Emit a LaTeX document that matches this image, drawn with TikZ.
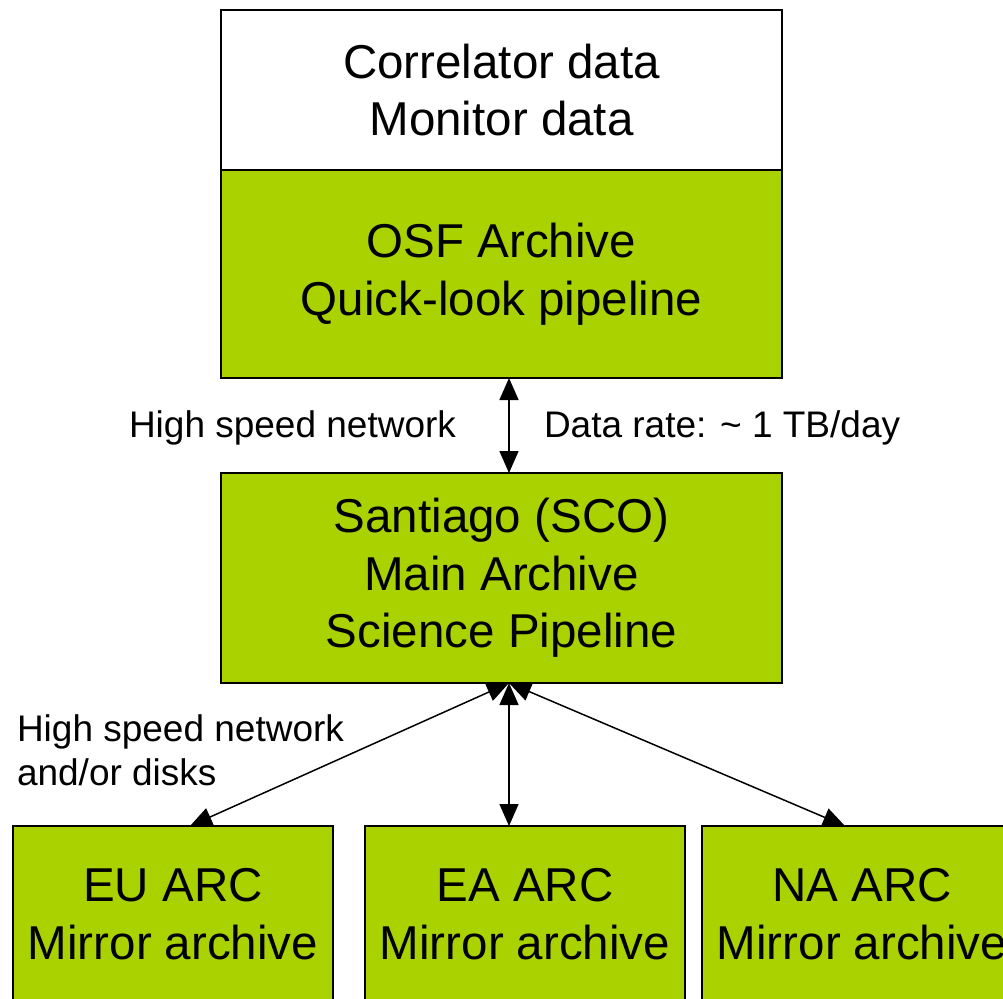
\documentclass[tikz,border=0pt]{standalone}
\usepackage{fontspec}
\setmainfont{Liberation Sans}
\usetikzlibrary{arrows.meta,calc}
\definecolor{boxgreen}{RGB}{170,210,0}
\begin{document}
\begin{tikzpicture}[x=1pt,y=-1pt,
  box/.style={draw=black, line width=1.6pt, inner sep=0pt, outer sep=0pt,
    align=center, font=\fontsize{47.5}{57.5}\selectfont},
  wide/.style={box, minimum width=561pt},
  arcbox/.style={box, fill=boxgreen, minimum width=320pt, minimum height=176pt},
  lbl/.style={inner sep=0pt, outer sep=0pt, font=\fontsize{37}{44}\selectfont},
  arr/.style={line width=1.5pt, {Triangle[length=22pt,width=19pt]}-{Triangle[length=22pt,width=19pt]}}
]
\useasboundingbox (0,0) rectangle (1003,998);
\clip (0,0) rectangle (1003,998);
\node[wide, fill=white, minimum height=160pt] (raw) at (501.5,90) {Correlator data\\Monitor data};
\node[wide, fill=boxgreen, minimum height=208pt] (osf) at (501.5,274) {OSF Archive\\Quick-look pipeline};
\node[wide, fill=boxgreen, minimum height=210pt] (sco) at (501.5,578) {Santiago (SCO)\\Main Archive\\Science Pipeline};
\node[arcbox] (eu) at (173,914) {EU ARC\\Mirror archive};
\node[arcbox] (ea) at (525,914) {EA ARC\\Mirror archive};
\node[arcbox] (na) at (862,914) {NA ARC\\Mirror archive};

\node[lbl, anchor=base west] (hsn) at (129,437) {High speed network};
\node[lbl, anchor=base west] (rate) at (544,437) {Data rate: \textasciitilde{} 1 TB/day};
\node[lbl, anchor=north west, align=left] (disk) at (17,715) {High speed network\\and/or disks};

\draw[arr] ([xshift=7.5pt]osf.south) -- ([xshift=7.5pt]sco.north);
\coordinate (hub) at ([xshift=7.5pt]sco.south);
\draw[arr] (hub) -- ([xshift=17pt]eu.north);
\draw[arr] (hub) -- ([xshift=-16pt]ea.north);
\draw[arr] (hub) -- ([xshift=-17pt]na.north);
\end{tikzpicture}
\end{document}
